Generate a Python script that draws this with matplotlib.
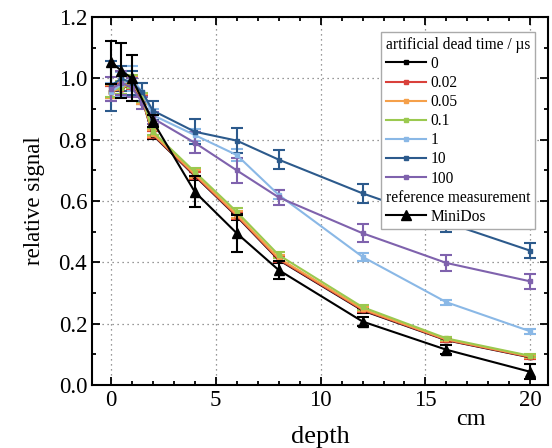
import matplotlib
matplotlib.use('Agg')
import matplotlib.pyplot as plt
from matplotlib.lines import Line2D
from matplotlib.ticker import MultipleLocator

plt.rcParams['font.family'] = ['Liberation Serif', 'DejaVu Serif']

# depth in cm
depth = [0, 0.5, 1, 1.5, 2, 4, 6, 8, 12, 16, 20]

# artificial dead time series (labels in µs)
dead_times = ['0', '0.02', '0.05', '0.1', '1', '10', '100']
sig_0 = [0.955, 0.965, 0.985, 0.930, 0.815, 0.682, 0.550, 0.408, 0.243, 0.146, 0.090]
sig_002 = [0.956, 0.966, 0.986, 0.931, 0.817, 0.684, 0.552, 0.410, 0.245, 0.147, 0.091]
sig_005 = [0.957, 0.967, 0.987, 0.933, 0.820, 0.688, 0.556, 0.414, 0.248, 0.149, 0.093]
sig_01 = [0.960, 0.970, 0.990, 0.938, 0.826, 0.695, 0.565, 0.424, 0.254, 0.152, 0.095]
sig_1 = [0.955, 0.980, 1.000, 0.955, 0.880, 0.815, 0.750, 0.620, 0.418, 0.270, 0.175]
sig_10 = [0.975, 1.000, 0.985, 0.955, 0.895, 0.826, 0.797, 0.735, 0.625, 0.530, 0.438]
sig_100 = [0.965, 0.985, 0.970, 0.920, 0.870, 0.790, 0.700, 0.612, 0.495, 0.398, 0.338]

err_0 = [0.02, 0.02, 0.02, 0.015, 0.012, 0.012, 0.012, 0.010, 0.008, 0.006, 0.005]
err_1 = [0.03, 0.04, 0.04, 0.03, 0.02, 0.02, 0.02, 0.015, 0.012, 0.008, 0.008]
err_10 = [0.08, 0.04, 0.04, 0.03, 0.03, 0.04, 0.04, 0.03, 0.03, 0.03, 0.025]
err_100 = [0.04, 0.04, 0.03, 0.02, 0.02, 0.035, 0.04, 0.025, 0.03, 0.025, 0.025]

# reference measurement
mini_depth = [0, 0.5, 1, 2, 4, 6, 8, 12, 16, 20]
mini_sig = [1.053, 1.025, 1.000, 0.860, 0.630, 0.495, 0.375, 0.207, 0.115, 0.043]
mini_err = [0.07, 0.09, 0.075, 0.02, 0.05, 0.06, 0.03, 0.015, 0.015, 0.025]

series = [sig_0, sig_002, sig_005, sig_01, sig_1, sig_10, sig_100]
errors = [err_0, err_0, err_0, err_0, err_1, err_10, err_100]
colors = ['#000000', '#d9413b', '#f5a04a', '#9bc94f', '#8ab8e6', '#2c5a8c', '#7f62ad']

fig = plt.figure(figsize=(5.52, 4.48), dpi=100)
ax = fig.add_axes([0.1667, 0.1406, 0.8263, 0.8214])

handles = []
for y, e, c, lab in zip(series, errors, colors, dead_times):
    ax.errorbar(depth, y, yerr=e, color=c, marker='s', markersize=3.5,
                lw=1.5, capsize=4, capthick=1.5, elinewidth=1.5)
    handles.append(Line2D([], [], color=c, marker='s', markersize=3.5, lw=1.5, label=lab))

ax.errorbar(mini_depth, mini_sig, yerr=mini_err, color='black', marker='^',
            markersize=7, lw=1.5, capsize=4, capthick=1.5, elinewidth=1.5, zorder=5)

handles.append(Line2D([], [], linestyle='none', label='reference measurement'))
handles.append(Line2D([], [], color='black', marker='^', markersize=7, lw=1.5, label='MiniDos'))

ax.set_xlim(-0.9, 20.85)
ax.set_ylim(0, 1.2)
ax.xaxis.set_major_locator(MultipleLocator(5))
ax.xaxis.set_minor_locator(MultipleLocator(1))
ax.yaxis.set_major_locator(MultipleLocator(0.2))
ax.yaxis.set_minor_locator(MultipleLocator(0.1))
ax.yaxis.set_major_formatter(plt.FormatStrFormatter('%.1f'))
ax.tick_params(which='both', direction='in', top=True, right=True, labelsize=16.5, width=1.3)
ax.tick_params(which='major', length=6)
ax.tick_params(which='minor', length=3)
for s in ax.spines.values():
    s.set_linewidth(1.5)
ax.grid(True, which='major', linestyle=(0, (1, 3)), color='#777777', lw=0.9)

ax.set_xlabel('depth', fontsize=19, labelpad=11)
ax.set_ylabel('relative signal', fontsize=16.5, labelpad=10)
ax.text(0.83, -0.095, 'cm', transform=ax.transAxes, fontsize=17.5, ha='center', va='center')

leg = ax.legend(handles=handles, loc='upper right', bbox_to_anchor=(0.971, 0.959),
                borderaxespad=0, title='artificial dead time / µs', fontsize=11.2,
                title_fontsize=11.2, fancybox=False, framealpha=1, edgecolor='#aaaaaa',
                handlelength=2.6, handletextpad=0.3, labelspacing=0.2, borderpad=0.3,
                alignment='left')
leg.get_frame().set_linewidth(1.0)

# put "reference measurement" flush left like a sub-heading
for col in leg._legend_handle_box.get_children():
    for row in col.get_children():
        kids = row.get_children()
        if len(kids) == 2 and hasattr(kids[1], 'get_children'):
            txts = [t for t in kids[1].get_children() if hasattr(t, 'get_text')]
            if txts and txts[0].get_text() == 'reference measurement':
                row._children = [kids[1]]

fig.savefig('out.png', dpi=100)
